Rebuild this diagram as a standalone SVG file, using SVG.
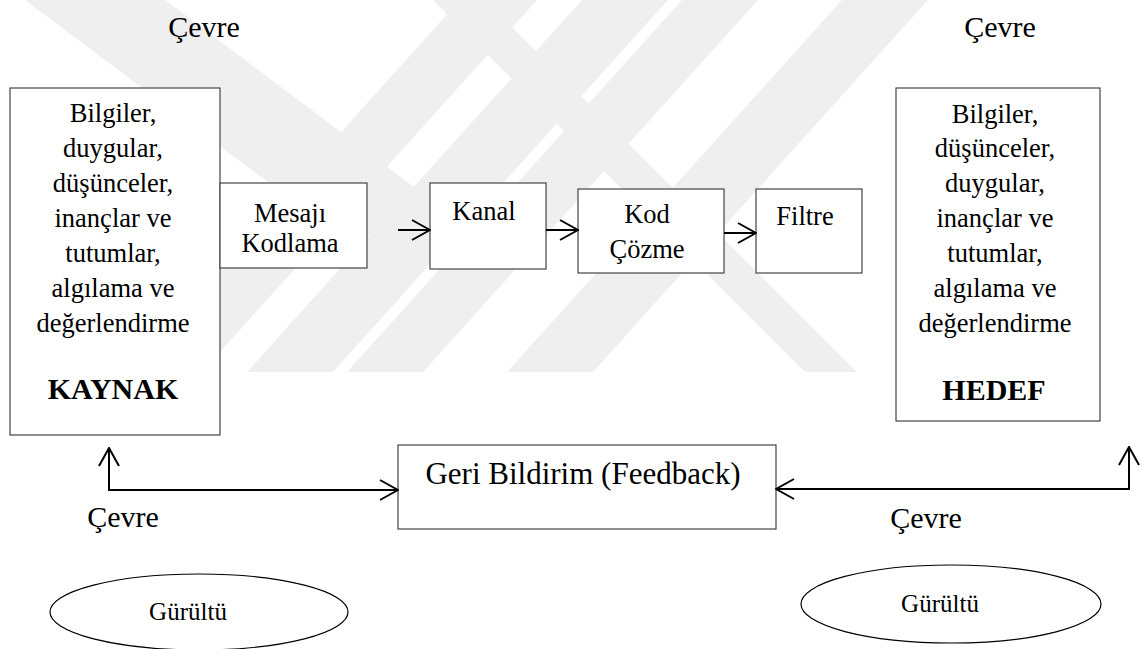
<svg xmlns="http://www.w3.org/2000/svg" width="1142" height="649" viewBox="0 0 1142 649">
<style>
.t{font-family:"Liberation Serif","Times New Roman",serif;fill:#000;text-anchor:middle}
.b26{font-size:26.5px}
.b30{font-size:30px}
.bold{font-size:30px;font-weight:bold}
.box{fill:#fff;stroke:#444;stroke-width:1.2}
.wm{fill:#efefef}
.ln{fill:none;stroke:#000;stroke-width:2}
</style>
<defs>
<marker id="ah" viewBox="0 0 20 22" refX="19" refY="11" markerWidth="20" markerHeight="22" markerUnits="userSpaceOnUse" orient="auto-start-reverse">
<path d="M1,1 L19,11 L1,21" fill="none" stroke="#000" stroke-width="2"/>
</marker>
</defs>
<rect width="1142" height="649" fill="#fff"/>
<g id="watermark">
<polygon class="wm" points="25,0 165,0 414,187 357,249"/>
<polygon class="wm" points="460,0 537,0 202,372 125,372"/>
<polygon class="wm" points="582,0 668,0 333,372 247,372"/>
<polygon class="wm" points="682,0 758,0 423,372 347,372"/>
<polygon class="wm" points="842,0 928,0 593,372 507,372"/>
<polygon class="wm" points="433,0 485,0 857,372 805,372"/>
</g>
<g id="kaynak">
<rect class="box" x="10" y="88" width="210" height="347"/>
<text class="t b26" x="113" y="122">Bilgiler,</text>
<text class="t b26" x="113" y="157">duygular,</text>
<text class="t b26" x="113" y="192">düşünceler,</text>
<text class="t b26" x="113" y="227">inançlar ve</text>
<text class="t b26" x="113" y="262">tutumlar,</text>
<text class="t b26" x="113" y="297">algılama ve</text>
<text class="t b26" x="113" y="332">değerlendirme</text>
<text class="t bold" x="113" y="399">KAYNAK</text>
</g>
<g id="mesaj">
<rect class="box" x="220" y="183" width="147" height="85"/>
<text class="t b26" x="290" y="222">Mesajı</text>
<text class="t b26" x="290" y="252">Kodlama</text>
</g>
<g id="kanal">
<rect class="box" x="430" y="183" width="116" height="86"/>
<text class="t b26" x="484" y="220">Kanal</text>
</g>
<g id="kodcozme">
<rect class="box" x="578" y="189" width="146" height="84"/>
<text class="t b26" x="647" y="223">Kod</text>
<text class="t b26" x="647" y="258">Çözme</text>
</g>
<g id="filtre">
<rect class="box" x="756" y="189" width="106" height="84"/>
<text class="t b26" x="805" y="225">Filtre</text>
</g>
<g id="hedef">
<rect class="box" x="896" y="88" width="204" height="333"/>
<text class="t b26" x="995" y="123">Bilgiler,</text>
<text class="t b26" x="995" y="157">düşünceler,</text>
<text class="t b26" x="995" y="192">duygular,</text>
<text class="t b26" x="995" y="227">inançlar ve</text>
<text class="t b26" x="995" y="262">tutumlar,</text>
<text class="t b26" x="995" y="297">algılama ve</text>
<text class="t b26" x="995" y="332">değerlendirme</text>
<text class="t bold" x="994" y="400">HEDEF</text>
</g>
<g id="feedback">
<rect class="box" x="398" y="445" width="378" height="84"/>
<text class="t" style="font-size:31px" x="583" y="484">Geri Bildirim (Feedback)</text>
</g>
<g id="gurultu-sol">
<ellipse cx="199" cy="612" rx="149" ry="38" fill="#fff" stroke="#000" stroke-width="1.2"/>
<text class="t" style="font-size:25px" x="188" y="620">Gürültü</text>
</g>
<g id="gurultu-sag">
<ellipse cx="951" cy="604" rx="150" ry="39" fill="#fff" stroke="#000" stroke-width="1.2"/>
<text class="t" style="font-size:25px" x="940" y="612">Gürültü</text>
</g>
<g id="labels">
<text class="t b30" x="204" y="37">Çevre</text>
<text class="t b30" x="1000" y="37">Çevre</text>
<text class="t b30" x="123" y="527">Çevre</text>
<text class="t b30" x="926" y="528">Çevre</text>
</g>
<g id="connectors">
<line class="ln" x1="398" y1="230" x2="430" y2="230" marker-end="url(#ah)"/>
<line class="ln" x1="546" y1="230" x2="578" y2="230" marker-end="url(#ah)"/>
<line class="ln" x1="724" y1="233" x2="756" y2="233" marker-end="url(#ah)"/>
<path class="ln" d="M109,448 V490 H398" marker-start="url(#ah)" marker-end="url(#ah)"/>
<path class="ln" d="M776,489 H1129 V447" marker-start="url(#ah)" marker-end="url(#ah)"/>
</g>
</svg>
